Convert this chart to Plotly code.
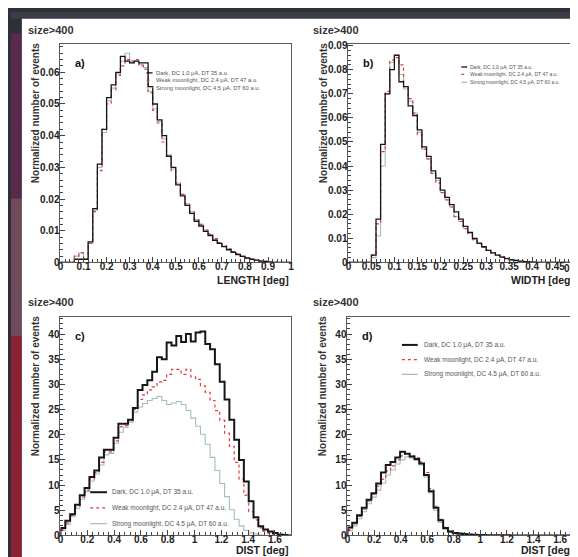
import numpy as np
import plotly.graph_objects as go

W, H = 578, 557

# ---------------- data ----------------
length_bin = 0.02
length_dark = [0, 0, 0, 0.001, 0.001, 0.001, 0.0065, 0.017, 0.031, 0.042, 0.052, 0.056, 0.060, 0.065,
               0.0635, 0.063, 0.0635, 0.063, 0.063, 0.0555, 0.050, 0.045, 0.040, 0.0335, 0.030, 0.0245,
               0.021, 0.018, 0.0155, 0.013, 0.0115, 0.0098, 0.0085, 0.007, 0.006, 0.005, 0.004, 0.0032,
               0.0025, 0.0019, 0.0014, 0.001, 0.0007, 0.0004, 0.0003, 0.0001, 0, 0, 0, 0]
length_weak = [0, 0, 0, 0.002, 0.003, 0.001, 0.006, 0.016, 0.029, 0.042, 0.050, 0.0545, 0.059, 0.062,
               0.064, 0.0635, 0.064, 0.062, 0.061, 0.0535, 0.048, 0.044, 0.038, 0.0335, 0.029, 0.025,
               0.0215, 0.0185, 0.016, 0.0135, 0.012, 0.0102, 0.009, 0.0075, 0.0063, 0.0053, 0.0043,
               0.0034, 0.0027, 0.002, 0.0015, 0.0011, 0.0008, 0.0005, 0.0003, 0.0002, 0.0001, 0, 0, 0]
length_strong = [0, 0, 0, 0.002, 0.003, 0.001, 0.006, 0.0165, 0.030, 0.041, 0.051, 0.055, 0.0595, 0.0635,
                 0.066, 0.063, 0.0635, 0.0625, 0.0615, 0.054, 0.0485, 0.0445, 0.039, 0.034, 0.0295, 0.025,
                 0.0215, 0.0185, 0.016, 0.0135, 0.012, 0.010, 0.0088, 0.0073, 0.0062, 0.0052, 0.0042,
                 0.0033, 0.0026, 0.002, 0.0014, 0.001, 0.0007, 0.0005, 0.0003, 0.0001, 0, 0, 0, 0]

width_bin = 0.01
width_dark = [0, 0, 0, 0, 0, 0.003, 0.018, 0.049, 0.070, 0.080, 0.086, 0.075, 0.073, 0.065, 0.061,
              0.055, 0.048, 0.044, 0.038, 0.035, 0.030, 0.027, 0.024, 0.021, 0.018, 0.015, 0.0125,
              0.010, 0.008, 0.0065, 0.005, 0.004, 0.003, 0.0022, 0.0016, 0.0011, 0.0008, 0.0005,
              0.0003, 0.0002, 0.0001, 0, 0, 0, 0, 0, 0, 0, 0, 0]
width_weak = [0, 0, 0, 0, 0, 0.003, 0.016, 0.046, 0.071, 0.084, 0.085, 0.082, 0.073, 0.068, 0.062,
              0.053, 0.047, 0.043, 0.037, 0.033, 0.029, 0.026, 0.023, 0.019, 0.017, 0.014, 0.012,
              0.0095, 0.0078, 0.0063, 0.005, 0.004, 0.003, 0.0023, 0.0017, 0.0012, 0.0009, 0.0006,
              0.0004, 0.0002, 0.0001, 0, 0, 0, 0, 0, 0, 0, 0, 0]
width_strong = [0, 0, 0, 0, 0, 0.002, 0.011, 0.040, 0.070, 0.083, 0.086, 0.078, 0.072, 0.067, 0.062,
                0.054, 0.047, 0.043, 0.037, 0.034, 0.029, 0.026, 0.023, 0.019, 0.017, 0.014, 0.012,
                0.0095, 0.0078, 0.0063, 0.005, 0.004, 0.003, 0.0022, 0.0016, 0.0011, 0.0008, 0.0005,
                0.0003, 0.0002, 0.0001, 0, 0, 0, 0, 0, 0, 0, 0, 0]
width_ticks = [0, 0.05, 0.1, 0.15, 0.2, 0.25, 0.3, 0.35, 0.4, 0.45]
width_last_tick = "0.5"

dist_bin = 0.036
dist_c_dark = [1.5, 2.9, 4.2, 6.1, 8.0, 9.4, 11.6, 12.9, 15.5, 17.0, 17.0, 19.4, 22.2, 22.2, 23.0, 25.3,
               28.9, 29.9, 30.8, 32.5, 35.4, 35.0, 38.3, 37.7, 39.6, 38.4, 40.0, 38.5, 40.3, 40.5, 38.0,
               37.0, 34.0, 30.5, 27.0, 23.0, 19.0, 15.0, 10.7, 6.8, 3.6, 1.8, 1.2, 0.8, 0.5, 0.2, 0.1, 0]
dist_c_weak = [1.2, 2.5, 4.0, 5.6, 7.6, 9.0, 11.2, 12.5, 14.5, 16.6, 16.6, 18.8, 21.6, 21.8, 22.8, 25.0,
               27.0, 27.9, 28.9, 29.5, 30.5, 30.8, 32.0, 33.0, 33.0, 32.0, 33.0, 31.5, 31.0, 29.7, 28.4,
               26.8, 24.8, 22.9, 20.3, 17.7, 14.5, 11.2, 8.0, 4.7, 3.1, 1.5, 0.8, 0.4, 0.2, 0.1, 0, 0]
dist_c_strong = [1.0, 2.2, 3.7, 5.3, 7.2, 8.7, 10.8, 12.2, 14.0, 16.0, 16.3, 18.3, 20.5, 21.5, 22.5, 24.5,
                 25.5, 26.2, 26.8, 27.2, 27.6, 26.8, 26.0, 26.3, 26.6, 26.0, 24.8, 23.3, 21.7, 20.1, 18.1,
                 15.5, 12.9, 10.3, 7.7, 5.1, 3.2, 1.9, 1.0, 0.5, 0.3, 0.1, 0, 0, 0, 0, 0, 0]

dist_d_dark = [1.6, 2.5, 4.0, 5.5, 7.1, 8.4, 10.3, 12.5, 14.0, 14.6, 15.5, 16.6, 16.2, 15.7, 15.2, 14.3,
               12.0, 8.8, 5.5, 3.0, 1.5, 0.8, 0.5, 0.4, 0.3, 0.2, 0.15, 0.1, 0.1, 0.05, 0.05, 0.05, 0.05,
               0.05, 0, 0, 0, 0, 0, 0, 0, 0, 0, 0, 0, 0, 0, 0]
dist_d_weak = [1.2, 2.3, 3.8, 5.2, 6.8, 8.2, 9.8, 11.2, 12.8, 13.8, 15.0, 15.8, 16.3, 15.8, 15.4, 14.6,
               12.5, 9.3, 5.8, 3.2, 1.6, 0.8, 0.5, 0.3, 0.2, 0.1, 0.1, 0.05, 0.05, 0, 0, 0, 0, 0, 0, 0,
               0, 0, 0, 0, 0, 0, 0, 0, 0, 0, 0, 0]
dist_d_strong = [0.9, 1.9, 3.3, 4.7, 6.3, 7.6, 9.0, 10.4, 12.0, 13.0, 14.2, 15.0, 15.6, 15.4, 14.9, 14.0,
                 11.6, 8.5, 5.0, 2.6, 1.2, 0.6, 0.3, 0.2, 0.1, 0.05, 0, 0, 0, 0, 0, 0, 0, 0, 0, 0, 0, 0,
                 0, 0, 0, 0, 0, 0, 0, 0, 0, 0]

series_names = ["Dark, DC 1.0 μA, DT 35 a.u.",
                "Weak moonlight, DC 2.4 μA, DT 47 a.u.",
                "Strong moonlight, DC 4.5 μA, DT 60 a.u."]
panel_labels = ["a)", "b)", "c)", "d)"]
x_titles = ["LENGTH [deg]", "WIDTH [deg]", "DIST [deg]", "DIST [deg]"]
y_title = "Normalized number of events"
cut_label = "size>400"

# ---------------- styling ----------------
BLACK = "#161616"
RED = "#e23b3b"
GREY = "#a6bcbc"
FONT = "Liberation Sans"


def px(x):
    return x / W


def py(y):
    return 1 - y / H


def steps(values, width):
    v = np.asarray(values, dtype=float)
    edges = np.arange(len(v) + 1) * width
    xs = np.concatenate([[edges[0]], edges])
    ys = np.concatenate([[0.0], v, [0.0]])
    return xs, ys


fig = go.Figure()

panels = [
    ("", (length_dark, length_weak, length_strong), length_bin, (50, 283, 33, 255), [0, 1], [0, 0.0688],
     0.1, 0.02, 0.01, 0.002, 1.3),
    ("2", (width_dark, width_weak, width_strong), width_bin, (341, 573, 33, 255), [0, 0.5], [0, 0.0905],
     0.05, 0.01, 0.01, 0.002, 1.3),
    ("3", (dist_c_dark, dist_c_weak, dist_c_strong), dist_bin, (50, 283, 311, 533), [0, 1.72], [0, 43.3],
     0.2, 0.04, 5, 1, 2.0),
    ("4", (dist_d_dark, dist_d_weak, dist_d_strong), dist_bin, (340, 571, 311, 533), [0, 1.72], [0, 43.3],
     0.2, 0.04, 5, 1, 2.0),
]

layout = dict(
    width=W, height=H, autosize=False,
    margin=dict(l=0, r=0, t=0, b=0),
    paper_bgcolor="#2e3039", plot_bgcolor="white",
    showlegend=False, hovermode=False,
)

shapes = []
annotations = []

# background decoration
shapes.append(dict(type="rect", xref="paper", yref="paper", x0=0, x1=1, y0=py(7), y1=1,
                   fillcolor="#3a3c47", line_width=0, layer="below"))
shapes.append(dict(type="rect", xref="paper", yref="paper", x0=0, x1=px(11), y0=py(190), y1=py(22),
                   fillcolor="#5a2a4c", line_width=0, layer="below"))
shapes.append(dict(type="rect", xref="paper", yref="paper", x0=0, x1=px(11), y0=py(330), y1=py(190),
                   fillcolor="#6e4a5a", line_width=0, layer="below"))
shapes.append(dict(type="rect", xref="paper", yref="paper", x0=0, x1=px(11), y0=0, y1=py(330),
                   fillcolor="#8c2034", line_width=0, layer="below"))
# white sheet
shapes.append(dict(type="rect", xref="paper", yref="paper", x0=px(11), x1=px(576), y0=0, y1=py(7),
                   fillcolor="white", line_width=0, layer="below"))

legend_pos = [
    (137, 143, 144, (62, 69.5, 77), 5.8),
    (455, 461, 462, (56, 63.5, 71.5), 5.0),
    (80, 97, 100, (489, 505, 521), 6.5),
    (395, 411, 415, (339, 354, 369), 6.5),
]
title_pos = [(15, 18), (303, 18), (15, 295), (303, 295)]
tickfont = dict(family=FONT, size=10, color="#222", weight="bold")

for i, (suf, data, binw, (l, r, t, b), xr, yr, xd, xm, yd, ym, thick) in enumerate(panels):
    xa = "x" + suf
    ya = "y" + suf
    colors = [BLACK, RED, GREY]
    widths = [thick, 1.2, 1.1]
    dashes = ["solid", "dot", "solid"]
    for j in [2, 1, 0]:
        xs, ys = steps(data[j], binw)
        fig.add_trace(go.Scatter(x=xs, y=ys, mode="lines", line_shape="hv",
                                 line=dict(color=colors[j], width=widths[j], dash=dashes[j]),
                                 xaxis=xa, yaxis=ya, name=series_names[j]))
    axis_common = dict(showgrid=False, zeroline=False, showline=True, mirror=True,
                       linecolor="#5a5a5a", linewidth=1, ticks="inside", ticklen=5,
                       tickcolor="#444", tickwidth=1, tickfont=tickfont)
    xaxis = dict(axis_common, domain=[px(l), px(r)], range=xr, dtick=xd, tick0=0,
                 anchor=ya, fixedrange=True, ticklabelstandoff=-5,
                 minor=dict(ticks="inside", ticklen=3, dtick=xm, tickcolor="#444"))
    if suf == "2":
        xaxis["tickmode"] = "array"
        xaxis["tickvals"] = width_ticks
        xaxis["ticktext"] = [("%g" % v) for v in width_ticks]
        annotations.append(dict(text=width_last_tick, x=px(575), y=py(b + 6.5), xref="paper", yref="paper",
                                xanchor="right", yanchor="middle", showarrow=False, font=tickfont))
    layout["xaxis" + suf] = xaxis
    layout["yaxis" + suf] = dict(axis_common, domain=[py(b), py(t)], range=yr, dtick=yd, tick0=0,
                                 anchor=xa, fixedrange=True, ticklabelstandoff=-2,
                                 minor=dict(ticks="inside", ticklen=3, dtick=ym, tickcolor="#444"))

    tx, ty = title_pos[i]
    annotations.append(dict(text=cut_label, x=px(tx), y=py(ty), xref="paper", yref="paper",
                            xanchor="left", yanchor="middle", showarrow=False,
                            font=dict(family=FONT, size=11, color="#333", weight="bold")))
    annotations.append(dict(text=panel_labels[i], x=px(l + 13), y=py(t + 19), xref="paper", yref="paper",
                            xanchor="left", yanchor="middle", showarrow=False,
                            font=dict(family=FONT, size=11, color="#111", weight="bold")))
    annotations.append(dict(text=x_titles[i], x=px(min(r, 571)), y=py(b + 18 if i < 2 else b + 15),
                            xref="paper", yref="paper",
                            xanchor="right", yanchor="middle", showarrow=False,
                            font=dict(family=FONT, size=10.5, color="#222", weight="bold")))
    annotations.append(dict(text=y_title, x=px(l - 25), y=py(t - 3), xref="paper", yref="paper",
                            xanchor="center", yanchor="top", textangle=-90, showarrow=False,
                            font=dict(family=FONT, size=10, color="#333", weight="bold")))

    lx0, lx1, ltx, lys, lfs = legend_pos[i]
    for j in range(3):
        shapes.append(dict(type="line", xref="paper", yref="paper", x0=px(lx0), x1=px(lx1),
                           y0=py(lys[j]), y1=py(lys[j]),
                           line=dict(color=colors[j], width=widths[j] if j == 0 else 1.2,
                                     dash=dashes[j])))
        annotations.append(dict(text=series_names[j], x=px(ltx), y=py(lys[j]), xref="paper",
                                yref="paper", xanchor="left", yanchor="middle", showarrow=False,
                                font=dict(family=FONT, size=lfs, color="#555")))

layout["shapes"] = shapes
layout["annotations"] = annotations
fig.update_layout(**layout)

fig.write_html("out.html")
